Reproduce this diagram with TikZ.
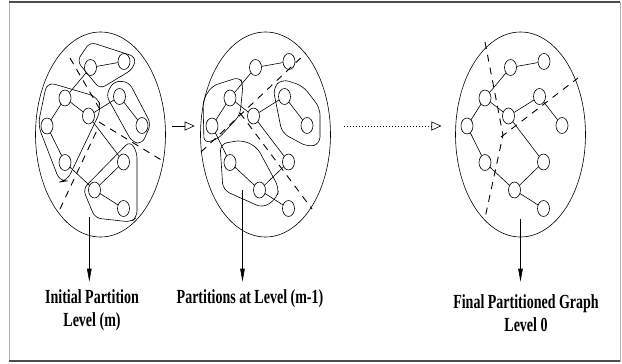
\documentclass[tikz,border=0pt]{standalone}
\usepackage{fontspec}
\usepackage{tikz}
\usetikzlibrary{arrows.meta,shapes.geometric,positioning}
\newfontfamily\labelfont[FakeStretch=0.70]{Liberation Serif}

% one level of the graph: #1 name prefix, #2,#3 centre
\newcommand{\levelgraph}[3]{%
  \begin{scope}[shift={(#2,#3)}]
  \node[vtx] (#1a) at (-10,-67) {};
  \node[vtx] (#1b) at (23.5,-73) {};
  \node[vtx] (#1c) at (-35.5,-36.5) {};
  \node[vtx] (#1d) at (-12,-18.5) {};
  \node[vtx] (#1e) at (19,-38) {};
  \node[vtx] (#1f) at (41.5,-9) {};
  \node[vtx] (#1g) at (-53.5,-8.5) {};
  \node[vtx] (#1h) at (-35.5,28) {};
  \node[vtx] (#1i) at (23,27.5) {};
  \node[vtx] (#1j) at (-6,55.5) {};
  \node[vtx] (#1k) at (23,74) {};
  \draw (#1a) -- (#1b) (#1a) -- (#1c) (#1c) -- (#1g) (#1c) -- (#1d)
        (#1d) -- (#1e) (#1e) -- (#1f) (#1d) -- (#1i) (#1g) -- (#1h)
        (#1h) -- (#1j) (#1j) -- (#1i) (#1j) -- (#1k);
  \end{scope}}

\begin{document}
\begin{tikzpicture}[
  x=1pt,y=-1pt,line width=0.6pt,
  level/.style={draw,ellipse,minimum width=130pt,minimum height=205pt,inner sep=0pt},
  vtx/.style={draw,ellipse,minimum width=12pt,minimum height=16pt,inner sep=0pt},
  part/.style={rounded corners=6pt},
  cut/.style={line width=0.9pt,dash pattern=on 7pt off 6pt},
  lbl/.style={font={\labelfont\bfseries\fontsize{20}{23}\selectfont},align=center,inner xsep=0pt,inner ysep=8pt,anchor=north},
  next/.style={-{Triangle[open,length=10pt,width=9pt]}},
  down/.style={-{Triangle[length=13pt,width=4.5pt]}}
]
\useasboundingbox (0,0) rectangle (622,364);
\draw[gray!60,line width=0.8pt] (9,2) rectangle (620,361);
\draw[gray!60!black,line width=1.4pt] (9,2) -- (620,2) (9,361) -- (620,361);

\node[level] (lvl1) at (100.5,134.5) {};
\node[level] (lvl2) at (265.5,134.5) {};
\node[level] (lvl3) at (520.5,134.5) {};
\levelgraph{p}{100.5}{134.5}
\levelgraph{q}{265.5}{134.5}
\levelgraph{r}{520.5}{134.5}

% partitions, level m
\draw[part] (77,61) -- (90,42) -- (136,57) -- (133,69) -- (100,89) -- cycle;
\draw[part,rounded corners=8pt] (47,82) -- (98,97) -- (101,110) -- (67,181) -- (60,182) -- (38,125) -- cycle;
\draw[part] (106,95) -- (114,81) -- (129,82) -- (151,124) -- (142,144) -- (132,142) -- cycle;
\draw[part] (83,189) -- (130,141) -- (137,152) -- (137,217) -- (131,222) -- (95,218) -- cycle;
\draw[cut] (70,58) -- (102,113);
\draw[cut] (99,122) -- (163,161);
\draw[cut] (60,209) -- (98,128);

% partitions, level m-1
\draw[part] (204,143) -- (203,100) -- (212,86) -- (240,77) -- (243,85) -- (240,115) -- (218,139) -- cycle;
\draw[part,rounded corners=7pt] (273,88) -- (282,79) -- (303,86) -- (320,108) -- (320,144) -- (308,147) -- (282,133) -- cycle;
\draw[part,rounded corners=7pt] (220,144) -- (242,140) -- (257,147) -- (279,188) -- (277,198) -- (263,208) -- (223,190) -- cycle;
\draw[cut] (201,152) -- (306,53);
\draw[cut] (240,113) -- (312,209);

% final cuts, level 0
\draw[cut] (485,42) -- (503,135) -- (485,218);
\draw[cut] (501,137) -- (578,78);

\draw[next,shorten <=6pt,shorten >=5.5pt] ([yshift=8.5pt]lvl1.east) -- ([yshift=8.5pt]lvl2.west);
\draw[next,dash pattern=on 1pt off 2pt,shorten <=13.5pt,shorten >=13.8pt] ([yshift=8.5pt]lvl2.east) -- ([yshift=8.5pt]lvl3.west);

\node[lbl] (lab1) at (92,281.7) {Initial Partition\\Level (m)};
\node[lbl] (lab2) at (250,281.7) {Partitions at Level (m-1)};
\node[lbl,inner ysep=13pt] (lab3) at (526,281.7) {Final Partitioned Graph\\Level 0};
\coordinate (s1) at (89.3,216.7);
\coordinate (s2) at (242.5,190);
\coordinate (s3) at (520.5,219);
\draw[down] (s1) -- (s1 |- lab1.north);
\draw[down] (s2) -- (s2 |- lab2.north);
\draw[down] (s3) -- (s3 |- lab3.north);
\end{tikzpicture}
\end{document}
